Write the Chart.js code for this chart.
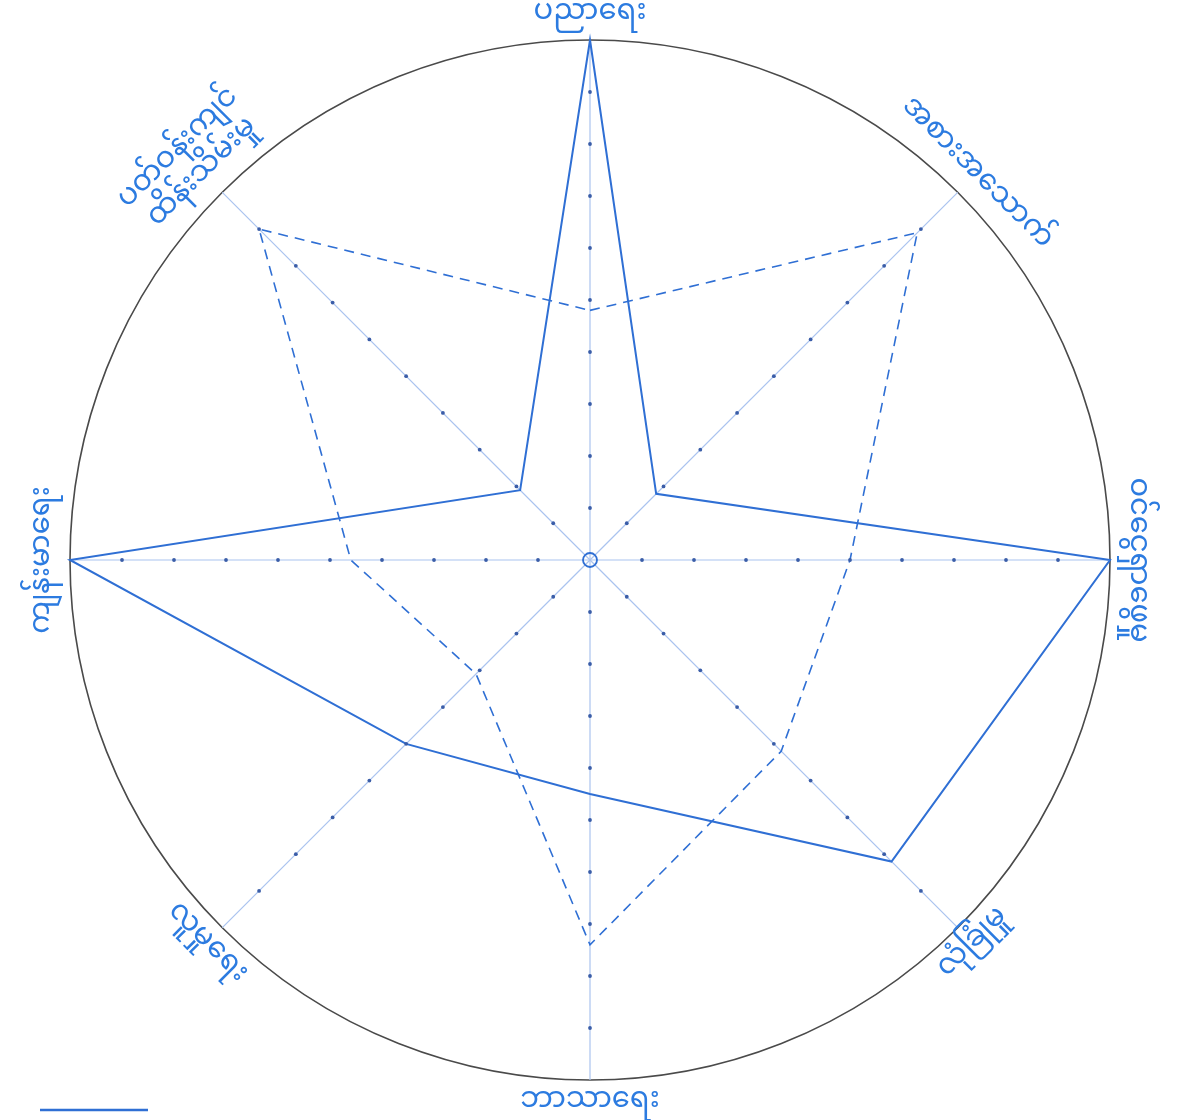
<!DOCTYPE html>
<html>
<head>
<meta charset="utf-8">
<title>radar</title>
<script src="https://cdn.jsdelivr.net/npm/chart.js@4.4.1/dist/chart.umd.min.js"></script>
<style>
  html, body { margin: 0; padding: 0; background: #ffffff; }
  #wrap { position: relative; width: 1183px; height: 1120px; }
</style>
</head>
<body>
<div id="wrap"><canvas id="radarChart" width="1183" height="1120"></canvas></div>
<script>
"use strict";

// axis labels, clockwise from the top (multi-line labels are arrays)
const categories = [
  "ပညာရေး",
  "အစားအသောက်",
  "ဝင်ငွေရှာဖွေမှု",
  "လုံခြုံမှု",
  "ဘာသာရေး",
  "လူမှုရေး",
  "ကျန်းမာရေး",
  ["ပတ်ဝန်းကျင်", "ထိန်းသိမ်းမှု"],
];

// values (0 - 10 scale)
const solidValues = [10, 1.8, 10, 8.2, 4.5, 5, 10, 1.9];
const dashedValues = [4.8, 8.9, 5, 5.2, 7.4, 3.1, 4.6, 9];

const scaleTicks = [0, 1, 2, 3, 4, 5, 6, 7, 8, 9, 10];

const INK = "#2f6fd4";
const LABEL_INK = "#2c7be0";
const SPOKE = "#aac3ef";
const FONT = "'Noto Sans Myanmar', 'Padauk', 'Myanmar Text', 'Noto Sans', sans-serif";

// little dots along every spoke, a ring at the middle, rotated labels
const spokeMarks = {
  id: "spokeMarks",
  afterDatasetsDraw(chart) {
    const scale = chart.scales.r;
    const ctx = chart.ctx;
    ctx.save();
    ctx.fillStyle = "#3a5da8";
    for (let i = 0; i < categories.length; i++) {
      for (const v of scaleTicks) {
        if (v === 0 || v === scale.max) continue;
        const p = scale.getPointPositionForValue(i, v);
        ctx.beginPath();
        ctx.arc(p.x, p.y, 1.9, 0, Math.PI * 2);
        ctx.fill();
      }
    }
    ctx.strokeStyle = INK;
    ctx.lineWidth = 1.8;
    ctx.beginPath();
    ctx.arc(scale.xCenter, scale.yCenter, 7, 0, Math.PI * 2);
    ctx.stroke();
    ctx.restore();
  },
  afterDraw(chart) {
    const scale = chart.scales.r;
    const ctx = chart.ctx;
    ctx.save();
    ctx.fillStyle = LABEL_INK;
    ctx.font = "29px " + FONT;
    ctx.textAlign = "center";
    ctx.textBaseline = "middle";
    for (let i = 0; i < categories.length; i++) {
      const a = scale.getIndexAngle(i);
      const lower = a > Math.PI / 2 + 0.01 && a < (3 * Math.PI) / 2 - 0.01;
      const rot = lower ? a - Math.PI : a;
      const lines = Array.isArray(categories[i]) ? categories[i] : [categories[i]];
      const p = scale.getPointPosition(i, scale.drawingArea + (lines.length > 1 ? 42 : 24));
      ctx.save();
      ctx.translate(p.x, p.y);
      ctx.rotate(rot);
      const lh = 34;
      lines.forEach((txt, k) => {
        ctx.fillText(txt, 0, (k - (lines.length - 1) / 2) * lh);
      });
      ctx.restore();
    }
    // legend sample line, bottom-left
    ctx.strokeStyle = INK;
    ctx.lineWidth = 2.5;
    ctx.beginPath();
    ctx.moveTo(40, 1110);
    ctx.lineTo(148, 1110);
    ctx.stroke();
    ctx.restore();
  },
};

const chartCtx = document.getElementById("radarChart").getContext("2d");

new Chart(chartCtx, {
  type: "radar",
  data: {
    labels: categories,
    datasets: [
      {
        label: "solid",
        data: solidValues,
        borderColor: INK,
        backgroundColor: "rgba(0,0,0,0)",
        borderWidth: 2,
        pointRadius: 0,
        fill: false,
        tension: 0,
      },
      {
        label: "dashed",
        data: dashedValues,
        borderColor: INK,
        backgroundColor: "rgba(0,0,0,0)",
        borderWidth: 1.6,
        borderDash: [10, 7],
        pointRadius: 0,
        fill: false,
        tension: 0,
      },
    ],
  },
  options: {
    responsive: false,
    animation: false,
    layout: { padding: { left: 70, right: 73, top: 40, bottom: 40 } },
    plugins: {
      legend: { display: false },
      tooltip: { enabled: false },
    },
    scales: {
      r: {
        min: 0,
        max: 10,
        ticks: { display: false, stepSize: 1 },
        pointLabels: { display: false },
        angleLines: { color: SPOKE, lineWidth: 1.2 },
        grid: {
          circular: true,
          lineWidth: 1.6,
          color: (c) => (c.tick && c.tick.value === 10 ? "#4a4a4a" : "rgba(0,0,0,0)"),
        },
      },
    },
  },
  plugins: [spokeMarks],
});
</script>
</body>
</html>
